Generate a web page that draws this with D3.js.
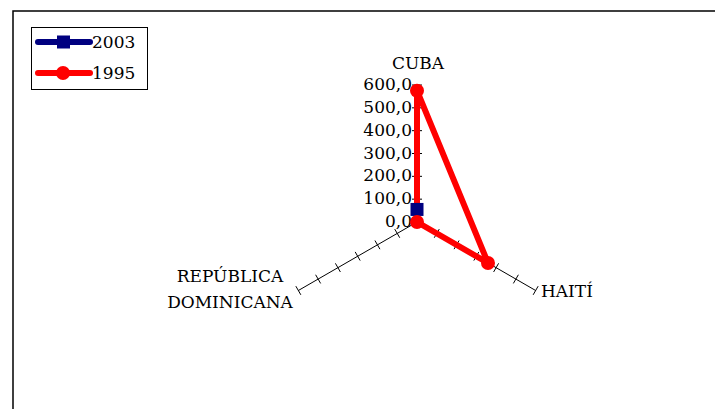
<!DOCTYPE html>
<html><head><meta charset="utf-8">
<script src="https://cdn.jsdelivr.net/npm/d3@7"></script>
<style>body{margin:0;background:#fff}svg{display:block}</style>
</head><body><svg id="c" width="715" height="409"></svg>
<script>
const categories = ["CUBA", "HAITÍ", "REPÚBLICA DOMINICANA"];
const seriesNames = ["2003", "1995"];
const values2003 = [55, null, null];
const values1995 = [575, 359, 0];
const tickValues = [0, 100, 200, 300, 400, 500, 600];
const tickLabels = ["0,0", "100,0", "200,0", "300,0", "400,0", "500,0", "600,0"];

const FONT = "'DejaVu Serif', 'Liberation Serif', 'Times New Roman', serif";
const svg = d3.select("#c").attr("font-family", FONT);
svg.append("rect").attr("x", 13).attr("y", 11).attr("width", 720).attr("height", 420)
  .attr("fill", "none").attr("stroke", "#000").attr("stroke-width", 1.5);

const cx = 417, cy = 222;
const r = d3.scaleLinear().domain([0, 600]).range([0, 137]);
const angles = categories.map((c, i) => -90 + i * 120);
function pt(i, v) { const a = angles[i] * Math.PI / 180; return [cx + r(v) * Math.cos(a), cy + r(v) * Math.sin(a)]; }

const g = svg.append("g");
categories.forEach((c, i) => {
  const [x2, y2] = pt(i, 600);
  g.append("line").attr("x1", cx).attr("y1", cy).attr("x2", x2).attr("y2", y2).attr("stroke", "#000").attr("stroke-width", 1);
  const a = angles[i] * Math.PI / 180;
  const px = -Math.sin(a), py = Math.cos(a);
  tickValues.slice(1).forEach(t => {
    const [x, y] = pt(i, t);
    g.append("line").attr("x1", x - px * 5).attr("y1", y - py * 5).attr("x2", x + px * 5).attr("y2", y + py * 5)
      .attr("stroke", "#000").attr("stroke-width", 1);
  });
});
tickValues.forEach((t, k) => {
  const [x, y] = pt(0, t);
  g.append("text").attr("x", x - 5).attr("y", y + 5).attr("text-anchor", "end").attr("font-size", 17)
    .attr("font-family", FONT).text(tickLabels[k]);
});
g.append("text").attr("x", cx + 1).attr("y", 69).attr("text-anchor", "middle").attr("font-size", 17).attr("font-family", FONT).text(categories[0]);
g.append("text").attr("x", 541).attr("y", 297).attr("text-anchor", "start").attr("font-size", 17).attr("font-family", FONT).text(categories[1]);
const dl = categories[2].split(" ");
g.append("text").attr("x", 230).attr("y", 282).attr("text-anchor", "middle").attr("font-size", 17).attr("font-family", FONT).text(dl[0]);
g.append("text").attr("x", 230).attr("y", 308).attr("text-anchor", "middle").attr("font-size", 17).attr("font-family", FONT).text(dl[1]);

const toPts = vals => vals.map((v, i) => v === null ? null : pt(i, v));
const s2003 = toPts(values2003), s1995 = toPts(values1995);
const line1995 = d3.line().curve(d3.curveLinearClosed);
const line2003 = d3.line();
g.append("path").attr("d", line2003([pt(0, values2003[0]), [cx, cy]])).attr("fill", "none").attr("stroke", "#000080").attr("stroke-width", 6);
g.append("path").attr("d", line1995(s1995)).attr("fill", "none").attr("stroke", "#ff0000").attr("stroke-width", 6).attr("stroke-linejoin", "round");
g.selectAll(".sq").data(s2003.filter(d => d)).join("rect").attr("x", d => d[0] - 6.5).attr("y", d => d[1] - 6.5)
  .attr("width", 13).attr("height", 13).attr("fill", "#000080");
g.selectAll(".ci").data(s1995).join("circle").attr("cx", d => d[0]).attr("cy", d => d[1]).attr("r", 7).attr("fill", "#ff0000");

const lg = svg.append("g");
lg.append("rect").attr("x", 31.5).attr("y", 27.5).attr("width", 116).attr("height", 62).attr("fill", "#fff").attr("stroke", "#000").attr("stroke-width", 1);
[["#000080", "sq"], ["#ff0000", "ci"]].forEach((s, k) => {
  const y = 42 + k * 31;
  lg.append("line").attr("x1", 38).attr("x2", 90).attr("y1", y).attr("y2", y).attr("stroke", s[0]).attr("stroke-width", 6).attr("stroke-linecap", "round");
  if (s[1] === "sq") lg.append("rect").attr("x", 57).attr("y", y - 6.5).attr("width", 13).attr("height", 13).attr("fill", s[0]);
  else lg.append("circle").attr("cx", 63).attr("cy", y).attr("r", 7).attr("fill", s[0]);
  lg.append("text").attr("x", 92).attr("y", y + 6).attr("font-size", 17).attr("font-family", FONT).text(seriesNames[k]);
});
</script></body></html>
